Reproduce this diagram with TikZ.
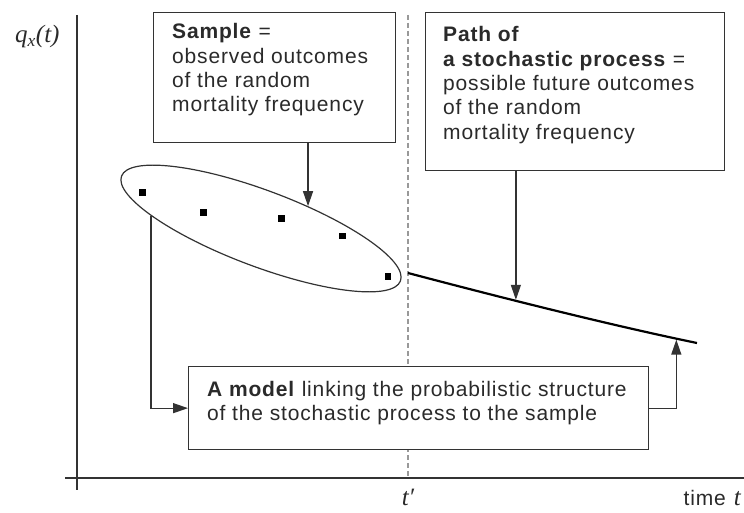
\documentclass[tikz,border=0pt]{standalone}
\usepackage{fontspec}
\setmainfont{Liberation Sans}[LetterSpace=4]
\newfontfamily\serifit{Liberation Serif}
\usetikzlibrary{arrows.meta,shapes.geometric}
\definecolor{linegray}{HTML}{333333}
\definecolor{textgray}{HTML}{2A2A2A}
\definecolor{dashgray}{HTML}{999999}
\begin{document}
\begin{tikzpicture}[x=1pt,y=-1pt,
  box/.style={draw=linegray, line width=1.3pt, fill=white, inner sep=0pt, anchor=north west},
  txt/.style={inner sep=0pt, anchor=base west, text=textgray, font=\fontsize{21}{24.3}\selectfont},
  arr/.style={draw=linegray, line width=1.3pt, -{Triangle[length=15pt,width=10pt]}},
  datapt/.style={fill=black, rectangle, minimum size=6.5pt, inner sep=0pt},
  axisline/.style={draw=linegray, line width=1.5pt},
  itlab/.style={inner sep=0pt, text=textgray, font=\serifit\itshape\fontsize{25}{30}\selectfont},
]
\useasboundingbox (0,0) rectangle (744,513);
% axes
\coordinate (ytop) at (77,15);
\coordinate (ybot) at (77,490);
\coordinate (xl) at (65,478);
\coordinate (xr) at (744,478);
\draw[axisline] (ytop) -- (ybot);
\draw[axisline] (xl) -- (xr);
% dashed line at t'
\coordinate (dtop) at (408,15);
\coordinate (dbot) at (408,478);
\draw[draw=dashgray, line width=1.2pt, dash pattern=on 5pt off 3pt] (dtop) -- (dbot);
% boxes
\node[box, minimum width=242pt, minimum height=130pt] (sample) at (153,12) {};
\node[box, minimum width=299pt, minimum height=158pt] (path) at (425,12) {};
\node[box, minimum width=460pt, minimum height=83pt] (model) at (188,366) {};
% box texts
\node[txt] (sampletxt) at (172,39) {\begin{tabular}[t]{@{}l@{}}\textbf{Sample} =\\observed outcomes\\of the random\\mortality frequency\end{tabular}};
\node[txt] (pathtxt) at (443,42) {\begin{tabular}[t]{@{}l@{}}\textbf{Path of}\\\textbf{a stochastic process} =\\possible future outcomes\\of the random\\mortality frequency\end{tabular}};
\node[txt] (modeltxt) at (207,396) {\begin{tabular}[t]{@{}l@{}}\textbf{A model} linking the probabilistic structure\\of the stochastic process to the sample\end{tabular}};
% ellipse and sample points
\node[draw=linegray, line width=1.2pt, ellipse, minimum width=298pt, minimum height=76pt, inner sep=0pt, rotate=-20.6] (ell) at (261,228.5) {};
\node[datapt] (d1) at (142.3,192.7) {};
\node[datapt] (d2) at (203.7,212.3) {};
\node[datapt] (d3) at (281.3,218.3) {};
\node[datapt] (d4) at (342.7,236) {};
\node[datapt] (d5) at (388,276.7) {};
% future path
\coordinate (ps) at (408,273);
\coordinate (pe) at (697,343);
\draw[line width=2.2pt, black] (ps) .. controls (480,292) and (600,323) .. (pe) coordinate[pos=0.41] (pa) coordinate[pos=0.93] (pb);
% arrows
\draw[arr] (sample.south -| ell.46) -- (ell.46);
\draw[arr, shorten >=1pt] (path.south -| pa) -- (pa);
\draw[arr] (ell.194) |- (model.west);
\draw[arr, shorten >=1pt] (model.east) -| (pb);
% axis labels
\node[itlab, anchor=base west] (ylab) at (15,43) {q\textsubscript{x}(t)};
\node[itlab, anchor=base] (tprime) at (408,505) {t′};
\node[inner sep=0pt, anchor=base east, text=textgray, font=\fontsize{21}{24}\selectfont] (timelab) at (741,505) {time\hspace{8pt}{\serifit\itshape\fontsize{25}{30}\selectfont t}};
\end{tikzpicture}
\end{document}
